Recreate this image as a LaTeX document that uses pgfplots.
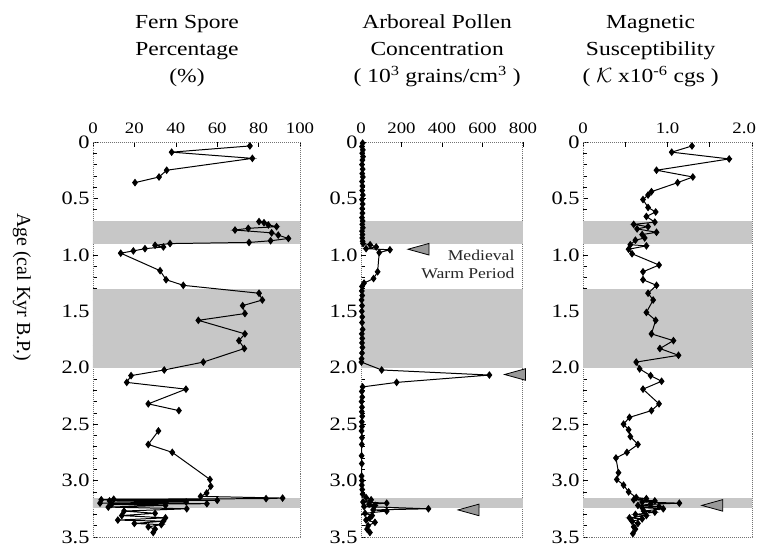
\documentclass[border=0pt]{standalone}
\usepackage{fontspec}
\setmainfont[FakeStretch=1.18]{Liberation Serif}
\newfontfamily\plainserif{Liberation Serif}
\usepackage{pgfplots}
\pgfplotsset{compat=1.18}

% left-pointing arrow head used as marker
\pgfdeclareplotmark{ltri}{%
  \pgfpathmoveto{\pgfpoint{-10.5bp}{0bp}}%
  \pgfpathlineto{\pgfpoint{10.5bp}{5.8bp}}%
  \pgfpathlineto{\pgfpoint{10.5bp}{-5.8bp}}%
  \pgfpathclose
  \pgfusepathqfillstroke}

\pgfplotsset{
  core/.style={
    scale only axis, height=395bp,
    y dir=reverse, ymin=0, ymax=3.5,
    ytick={0,0.5,...,3.5},
    yticklabels={0,0.5,1.0,1.5,2.0,2.5,3.0,3.5},
    minor y tick num=4,
    xtick pos=right, xticklabel pos=right, ytick pos=left,
    tick align=inside,
    major tick length=5bp, minor tick length=4bp,
    axis line style={black!55, densely dotted, line width=1pt},
    tick style={black, line width=0.6pt},
    yticklabel style={font=\fontsize{19}{19}\selectfont},
    xticklabel style={font=\fontsize{16}{16}\selectfont, yshift=5bp},
    title style={font=\fontsize{20}{27}\selectfont, align=center,
      anchor=south, inner sep=0pt, yshift=49bp},
    /pgf/number format/assume math mode=true,
  },
  ser/.style={black, line width=1pt, mark=diamond*, mark size=3.1pt,
    mark options={solid}},
  band/.style={draw=none, fill=black!22},
  arr/.style={only marks, mark=ltri, mark options={fill=black!40, draw=black, line width=0.8pt}},
}

\begin{document}
\begin{tikzpicture}
\path[use as bounding box] (-93bp,142bp) rectangle (666bp,-415bp);

% ---------------- Fern spores
\begin{axis}[core, at={(0bp,0bp)}, anchor=north west, width=207bp,
  xmin=0, xmax=100, xtick={0,20,...,100}, xticklabels={0,20,40,60,80,100},
  title={Fern Spore\\Percentage\\(\%)},
  title style={at={(axis description cs:0.454,1)}},
  ylabel={Age (cal Kyr B.P.)},
  ylabel style={at={(axis description cs:-0.343,0.633)}, anchor=center, rotate=180,
    font=\plainserif\fontsize{20}{20}\selectfont}]
\addplot[band] coordinates {(-5,0.7) (105,0.7) (105,0.9) (-5,0.9)} -- cycle;
\addplot[band] coordinates {(-5,1.3) (105,1.3) (105,2.0) (-5,2.0)} -- cycle;
\addplot[band] coordinates {(-5,3.15) (105,3.15) (105,3.24) (-5,3.24)} -- cycle;
\addplot[ser] coordinates {(75.8,0.035) (38,0.09) (77,0.145) (35.6,0.25) (31.9,0.31) (20.3,0.36)};
\addplot[ser] coordinates {(80.2,0.705) (82.6,0.715) (84.7,0.735) (88.7,0.75) (75,0.765)
  (68.6,0.78) (86.3,0.805) (89.5,0.825) (94.4,0.855) (85.8,0.875) (75.4,0.89) (37.2,0.9)
  (30,0.915) (34,0.93) (25.1,0.945) (19.5,0.965) (13.4,0.985) (32.4,1.14) (35.3,1.22)
  (43.6,1.27) (80.2,1.34) (81.8,1.40) (72.3,1.45) (73.4,1.52) (50.9,1.58) (73.4,1.70)
  (70.5,1.76) (73.1,1.83) (53.3,1.95) (34.4,2.02) (18.4,2.07) (16.3,2.13) (44.9,2.19)
  (26.7,2.32) (41.5,2.38)};
\addplot[ser] coordinates {(31.6,2.56) (26.7,2.68) (38.3,2.75) (56.5,2.99) (56.9,3.05)
  (54.9,3.11) (52,3.14) (91.6,3.155) (83.6,3.16) (10,3.165) (4,3.17) (60,3.175) (8,3.18)
  (45,3.19) (3.4,3.20) (55,3.205) (9,3.21) (35,3.22) (7.4,3.235) (45.3,3.25) (15,3.27)
  (30,3.29) (13.9,3.31) (35,3.33) (12,3.35) (34,3.36) (20,3.38) (33,3.39) (26.7,3.41)
  (30,3.43) (29.1,3.46)};
\end{axis}

% ---------------- Arboreal pollen
\begin{axis}[core, at={(268bp,0bp)}, anchor=north west, width=162bp,
  xmin=0, xmax=800, xtick={0,200,...,800}, xticklabels={0,200,400,600,800},
  title={Arboreal Pollen\\Concentration\\( 10\textsuperscript{3} grains/cm\textsuperscript{3} )},
  title style={at={(axis description cs:0.47,1)}}]
\addplot[band] coordinates {(-50,0.7) (850,0.7) (850,0.9) (-50,0.9)} -- cycle;
\addplot[band] coordinates {(-50,1.3) (850,1.3) (850,2.0) (-50,2.0)} -- cycle;
\addplot[band] coordinates {(-50,3.15) (850,3.15) (850,3.24) (-50,3.24)} -- cycle;
\addplot[ser] coordinates {(8,0.01) (5,0.04) (9,0.07) (6,0.10) (10,0.13) (7,0.16) (5,0.20)
  (8,0.24) (6,0.28) (9,0.31) (5,0.35) (7,0.39) (6,0.43) (9,0.47) (5,0.51) (8,0.55)
  (6,0.59) (7,0.63) (5,0.67) (8,0.70) (6,0.73) (9,0.76) (5,0.79) (7,0.82) (6,0.85)
  (8,0.88) (10,0.90) (45,0.91) (75,0.93) (25,0.945) (143,0.955) (90,0.98) (82,1.15)
  (62,1.21) (15,1.25) (5,1.28) (4,1.32) (6,1.36) (3,1.40) (5,1.45) (4,1.50) (6,1.55)
  (5,1.60) (8,1.66) (4,1.70) (6,1.74) (5,1.78) (7,1.82) (5,1.87) (3,1.92) (2,1.95)
  (102,2.02) (634,2.065) (176,2.13) (8,2.17) (4,2.21) (6,2.26) (3,2.30) (5,2.35) (4,2.39)
  (6,2.43) (4,2.48) (5,2.52) (3,2.56) (5,2.62) (4,2.68) (3,2.78) (4,2.85) (3,2.96)
  (5,3.00) (4,3.04) (6,3.08) (8,3.12) (25,3.15) (50,3.17) (10,3.19) (127,3.20) (40,3.21)
  (70,3.22) (15,3.23) (333,3.25) (60,3.26) (127,3.27) (20,3.29) (55,3.31) (44,3.33)
  (25,3.35) (69,3.37) (35,3.40) (30,3.43) (44,3.46)};
\addplot[arr] coordinates {(284,0.95) (761,2.06) (531,3.26)};
\node[anchor=east, align=right, font=\fontsize{15}{19}\selectfont, text=black!85]
  at (axis cs:775,1.085) {Medieval\\Warm Period};
\end{axis}

% ---------------- Magnetic susceptibility
\begin{axis}[core, at={(490bp,0bp)}, anchor=north west, width=169bp,
  xmin=0, xmax=2, xtick={0,0.5,...,2},
  xticklabels={0,,1.0,,\makebox[8bp][r]{2.0}},
  title={Magnetic\\Susceptibility\\( $\mathcal{K}$ x10\textsuperscript{-6} cgs )},
  title style={at={(axis description cs:0.40,1)}}]
\addplot[band] coordinates {(-0.1,0.7) (2.1,0.7) (2.1,0.9) (-0.1,0.9)} -- cycle;
\addplot[band] coordinates {(-0.1,1.3) (2.1,1.3) (2.1,2.0) (-0.1,2.0)} -- cycle;
\addplot[band] coordinates {(-0.1,3.15) (2.1,3.15) (2.1,3.24) (-0.1,3.24)} -- cycle;
\addplot[ser] coordinates {(1.29,0.035) (1.05,0.09) (1.73,0.15) (0.87,0.25) (1.30,0.31)
  (1.12,0.36) (0.81,0.44) (0.77,0.47) (0.71,0.51) (0.77,0.58) (0.86,0.62) (0.75,0.66)
  (0.85,0.71) (0.60,0.73) (0.77,0.75) (0.64,0.77) (0.87,0.80) (0.70,0.82) (0.73,0.85)
  (0.62,0.87) (0.56,0.91) (0.75,0.92) (0.54,0.95) (0.58,0.99) (0.90,1.09) (0.71,1.15)
  (0.71,1.22) (0.87,1.27) (0.77,1.34) (0.83,1.40) (0.75,1.51) (0.86,1.58) (0.81,1.70)
  (1.07,1.76) (0.91,1.83) (1.13,1.89) (0.63,1.95) (0.67,2.01) (0.80,2.07) (0.93,2.12)
  (0.71,2.19) (0.90,2.32) (0.81,2.38) (0.55,2.44) (0.48,2.50) (0.54,2.55) (0.56,2.61)
  (0.65,2.68) (0.52,2.75) (0.39,2.80) (0.42,2.93) (0.40,2.99) (0.48,3.04) (0.54,3.10)
  (0.63,3.15) (0.75,3.16) (0.60,3.17) (0.85,3.18) (0.70,3.19) (1.14,3.20) (0.80,3.21)
  (0.65,3.22) (0.90,3.23) (0.70,3.24) (0.95,3.25) (0.72,3.27) (0.85,3.28) (0.62,3.30)
  (0.75,3.31) (0.55,3.33) (0.70,3.34) (0.58,3.36) (0.65,3.38) (0.60,3.41) (0.62,3.43)
  (0.59,3.47)};
\addplot[arr] coordinates {(1.53,3.22)};
\end{axis}
\end{tikzpicture}
\end{document}
